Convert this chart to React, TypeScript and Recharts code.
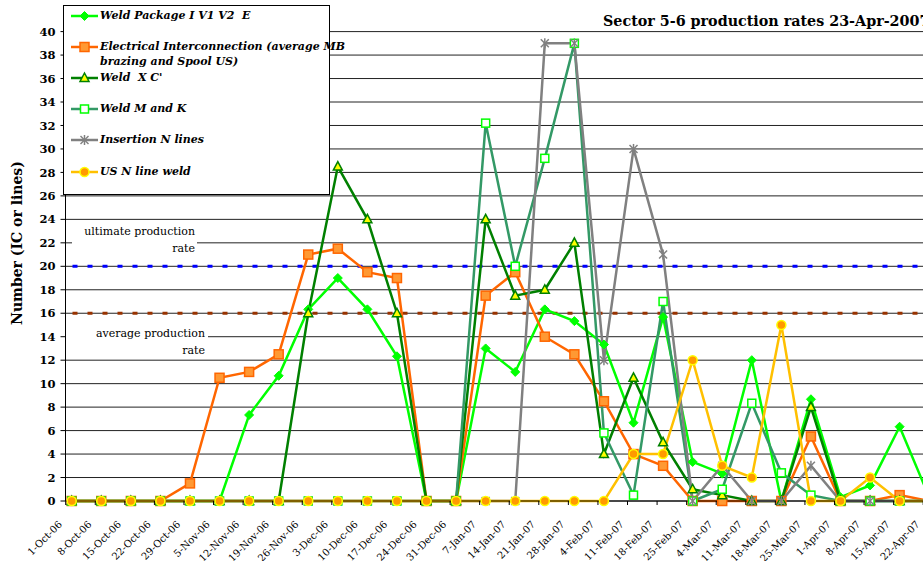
import React from 'react';
import { LineChart, Line, XAxis, YAxis, CartesianGrid, ReferenceLine } from 'recharts';

// weekly categories (Sunday of each week)
const weeks = [
  '1-Oct-06', '8-Oct-06', '15-Oct-06', '22-Oct-06', '29-Oct-06', '5-Nov-06', '12-Nov-06', '19-Nov-06',
  '26-Nov-06', '3-Dec-06', '10-Dec-06', '17-Dec-06', '24-Dec-06', '31-Dec-06', '7-Jan-07', '14-Jan-07',
  '21-Jan-07', '28-Jan-07', '4-Feb-07', '11-Feb-07', '18-Feb-07', '25-Feb-07', '4-Mar-07', '11-Mar-07',
  '18-Mar-07', '25-Mar-07', '1-Apr-07', '8-Apr-07', '15-Apr-07', '22-Apr-07',
];

const weldPackage = [0, 0, 0, 0, 0, 0, 7.33, 10.67, 16.33, 19, 16.33, 12.33, 0, 0, 13, 11, 16.33, 15.33, 13.33, 6.67, 15.67, 3.33, 2.33, 12, 0, 8.67, 0.33, 1.33, 6.33, 0.33];
const electrical = [0, 0, 0, 0, 1.5, 10.5, 11, 12.5, 21, 21.5, 19.5, 19, 0, 0, 17.5, 19.5, 14, 12.5, 8.5, 4, 3, 0, 0, 0, 0, 5.5, 0, 0, 0.5, 0];
const weldXC = [0, 0, 0, 0, 0, 0, 0, 0, 16, 28.5, 24, 16, 0, 0, 24, 17.5, 18, 22, 4, 10.5, 5, 1, 0.5, 0, 0, 8, 0, 0, 0, 0];
const weldMK = [0, 0, 0, 0, 0, 0, 0, 0, 0, 0, 0, 0, 0, 0, 32.2, 20, 29.2, 39, 5.8, 0.5, 17, 0, 1, 8.33, 2.4, 0.5, 0, 0, 0, 0];
const insertionN = [0, 0, 0, 0, 0, 0, 0, 0, 0, 0, 0, 0, 0, 0, 0, 0, 39, 39, 12, 30, 21, 0, 3, 0, 0, 3, 0, 0, 0, 0];
const usNWeld = [0, 0, 0, 0, 0, 0, 0, 0, 0, 0, 0, 0, 0, 0, 0, 0, 0, 0, 0, 4, 4, 12, 3, 2, 15, 0, 0, 2, 0, 0];

const yTicks = [0, 2, 4, 6, 8, 10, 12, 14, 16, 18, 20, 22, 24, 26, 28, 30, 32, 34, 36, 38, 40];
const ULTIMATE_RATE = 20;
const AVERAGE_RATE = 16;

const FONT = '"DejaVu Serif", serif';

type MarkerKind = 'diamond' | 'square' | 'triangle' | 'hollowSquare' | 'star' | 'circle';

const series: { key: string; name: string; color: string; marker: MarkerKind }[] = [
  { key: 'weldPackage', name: 'Weld Package I V1 V2  E', color: '#00ff00', marker: 'diamond' },
  { key: 'electrical', name: 'Electrical Interconnection (average MB\nbrazing and Spool US)', color: '#ff6600', marker: 'square' },
  { key: 'weldXC', name: "Weld  X C'", color: '#008000', marker: 'triangle' },
  { key: 'weldMK', name: 'Weld M and K', color: '#339966', marker: 'hollowSquare' },
  { key: 'insertionN', name: 'Insertion N lines', color: '#808080', marker: 'star' },
  { key: 'usNWeld', name: 'US N line weld', color: '#ffc000', marker: 'circle' },
];

const data = weeks.map((week, i) => ({
  week,
  weldPackage: weldPackage[i],
  electrical: electrical[i],
  weldXC: weldXC[i],
  weldMK: weldMK[i],
  insertionN: insertionN[i],
  usNWeld: usNWeld[i],
}));

const Marker = ({ kind, cx, cy }: { kind: MarkerKind; cx: number; cy: number }) => {
  switch (kind) {
    case 'diamond':
      return <polygon points={`${cx},${cy - 4.5} ${cx + 4.5},${cy} ${cx},${cy + 4.5} ${cx - 4.5},${cy}`} fill="#00ff00" stroke="#00ff00" />;
    case 'square':
      return <rect x={cx - 4.5} y={cy - 4.5} width={9} height={9} fill="#ff9933" stroke="#ff6600" strokeWidth={1.5} />;
    case 'triangle':
      return <polygon points={`${cx},${cy - 5} ${cx + 4.5},${cy + 3.5} ${cx - 4.5},${cy + 3.5}`} fill="#ffff00" stroke="#008000" strokeWidth={1.5} />;
    case 'hollowSquare':
      return <rect x={cx - 4} y={cy - 4} width={8} height={8} fill="#ffffff" stroke="#00ff00" strokeWidth={1.5} />;
    case 'star':
      return (
        <g stroke="#808080" strokeWidth={1.5}>
          <line x1={cx - 4} y1={cy - 4} x2={cx + 4} y2={cy + 4} />
          <line x1={cx - 4} y1={cy + 4} x2={cx + 4} y2={cy - 4} />
          <line x1={cx} y1={cy - 5} x2={cx} y2={cy + 5} />
        </g>
      );
    default:
      return <circle cx={cx} cy={cy} r={4.5} fill="#ff9900" stroke="#ffff00" strokeWidth={1.5} />;
  }
};

const WeekTick = (props: any) => {
  const { x, y, payload } = props;
  return (
    <g>
      <line x1={x - 6} x2={x - 6} y1={y} y2={y + 4} stroke="#000" />
      <text
        x={0}
        y={0}
        transform={`translate(${x - 9},${y + 24}) rotate(-45)`}
        textAnchor="end"
        fontSize={10}
        fontFamily={FONT}
        fill="#000"
      >
        {payload.value}
      </text>
    </g>
  );
};

const legendRows = [9.7, 40.7, 71.7, 103.3, 134.3, 165.7];

const App: React.FC = () => {
  return (
    <div style={{ position: 'fixed', left: 0, top: 0, width: 923, height: 561, overflow: 'hidden', background: '#fff', fontFamily: FONT }}>
      <LineChart width={936} height={561} data={data} margin={{ top: 31.6, right: 0, bottom: 0, left: 0.5 }}>
        <CartesianGrid vertical={false} stroke="#222" />
        <XAxis
          dataKey="week"
          interval={0}
          padding={{ left: 6.2, right: 6.8 }}
          height={60}
          tickSize={0}
          tickMargin={0}
          tickLine={false}
          axisLine={{ stroke: '#000' }}
          tick={<WeekTick />}
        />
        <YAxis
          domain={[0, 40]}
          ticks={yTicks}
          interval={0}
          width={65}
          tickSize={5}
          tickMargin={5}
          axisLine={{ stroke: '#000' }}
          tickLine={{ stroke: '#000' }}
          tick={{ fontSize: 11.5, fontWeight: 'bold', fill: '#000', fontFamily: FONT }}
        />
        <ReferenceLine y={ULTIMATE_RATE} stroke="#0000ff" strokeWidth={3} strokeDasharray="5 10" strokeDashoffset={8} />
        <ReferenceLine y={AVERAGE_RATE} stroke="#993300" strokeWidth={3} strokeDasharray="5 10" strokeDashoffset={8} />
        {series.map((s) => (
          <Line
            key={s.key}
            dataKey={s.key}
            name={s.name}
            stroke={s.color}
            strokeWidth={2.5}
            isAnimationActive={false}
            activeDot={false}
            dot={(p: any) => <Marker key={`${s.key}-${p.index}`} kind={s.marker} cx={p.cx} cy={p.cy} />}
          />
        ))}
      </LineChart>

      {/* title */}
      <div style={{ position: 'absolute', left: 603, top: 12, fontSize: 14.3, fontWeight: 'bold', whiteSpace: 'nowrap', lineHeight: '18px' }}>
        Sector 5-6 production rates 23-Apr-2007
      </div>

      {/* y axis title */}
      <div
        style={{
          position: 'absolute',
          left: 17,
          top: 243,
          transform: 'translate(-50%, -50%) rotate(-90deg)',
          whiteSpace: 'nowrap',
          fontSize: 14,
          fontWeight: 'bold',
        }}
      >
        Number (IC or lines)
      </div>

      {/* rate annotations */}
      <div style={{ position: 'absolute', left: 72, top: 223, width: 123, height: 37, paddingRight: 2, background: '#fff', textAlign: 'right', fontSize: 11, lineHeight: '17px' }}>
        ultimate production
        <br />
        rate
      </div>
      <div style={{ position: 'absolute', left: 66, top: 325, width: 139, height: 34, paddingRight: 3, background: '#fff', textAlign: 'right', fontSize: 11, lineHeight: '17px' }}>
        average production
        <br />
        rate
      </div>

      {/* legend */}
      <div style={{ position: 'absolute', left: 63, top: 5, width: 267, height: 190, boxSizing: 'border-box', border: '1px solid #000', background: '#fff' }}>
        {series.map((s, i) => (
          <div key={s.key} style={{ position: 'absolute', left: 0, top: legendRows[i] - 8, height: 16 }}>
            <svg width={30} height={16} style={{ position: 'absolute', left: 6, top: 0 }}>
              <line x1={1} x2={28} y1={8} y2={8} stroke={s.color} strokeWidth={2.5} />
              <Marker kind={s.marker} cx={14.5} cy={8} />
            </svg>
            <div
              style={{
                position: 'absolute',
                left: 36,
                top: 0,
                whiteSpace: 'pre',
                fontSize: 11,
                fontWeight: 'bold',
                fontStyle: 'italic',
                lineHeight: '15.3px',
              }}
            >
              {s.name}
            </div>
          </div>
        ))}
      </div>
    </div>
  );
};

export default App;
